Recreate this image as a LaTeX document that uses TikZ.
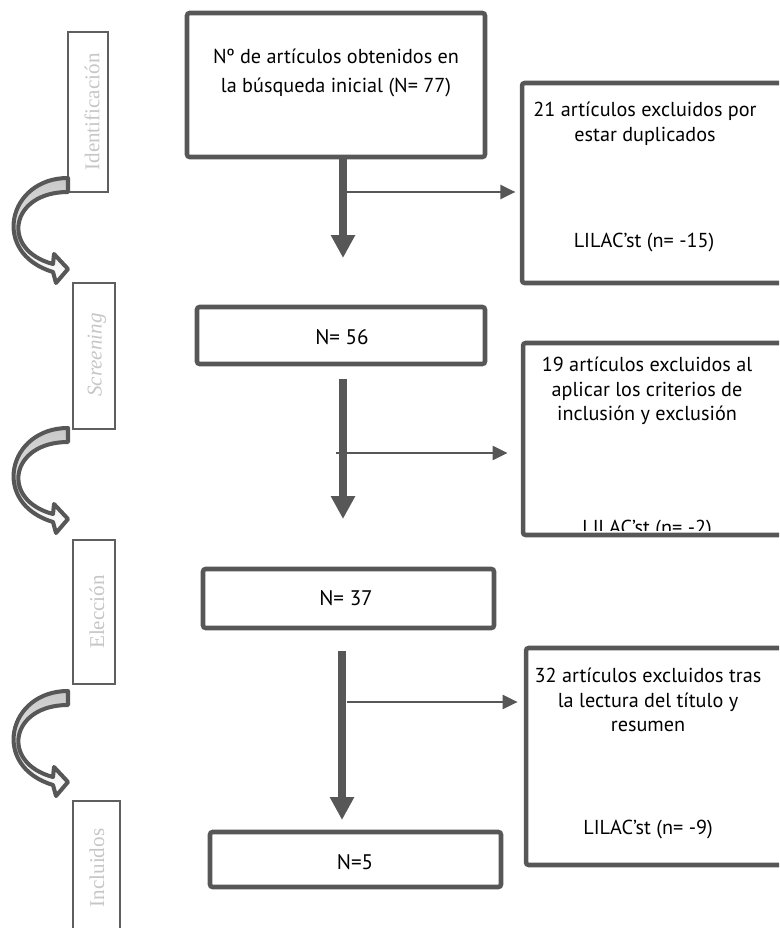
\documentclass[tikz,border=0pt]{standalone}
\usepackage{fontspec}
\setmainfont{PT Sans}
\newfontfamily\stagefont{Liberation Serif}
\usepackage{tikz}
\usetikzlibrary{arrows.meta,shadings}
\definecolor{figline}{RGB}{87,87,87}
\definecolor{figstage}{RGB}{95,95,95}
\definecolor{figlabel}{RGB}{198,198,198}
\definecolor{figband}{RGB}{200,200,200}
\tikzset{
  box/.style  ={draw=figline, line width=2.6pt, rounded corners=1.5pt, inner sep=0pt},
  stg/.style  ={draw=figstage, line width=1.2pt, inner sep=0pt},
  stl/.style  ={font=\stagefont\fontsize{12}{14}\selectfont, text=figlabel, rotate=90, inner sep=0pt},
  txt/.style  ={font=\fontsize{11.5}{14}\selectfont, align=center, inner sep=0pt},
  down/.style ={draw=figline, line width=4.5pt, -{Triangle[length=13pt,width=13pt]}},
  side/.style ={draw=figline, line width=1.1pt, -{Triangle[length=8.5pt,width=8pt]}},
  band/.style ={draw=figline, line width=2.3pt, line join=round, top color=figband, bottom color=white},
}

\begin{document}
\begin{tikzpicture}[x=0.02cm,y=-0.02cm]
  \useasboundingbox (0,0) rectangle (779,928);
  \clip (0,0) rectangle (779,928);
  % stages
  \node[stg,minimum width=0.8cm,minimum height=3.2cm] (stId) at (88,112) {};
  \node[stl] (lbId) at (92,112) {Identificación};
  \node[stg,minimum width=0.84cm,minimum height=2.92cm] (stSc) at (94,356) {};
  \node[stl] (lbSc) at (97,355) {\itshape Screening};
  \node[stg,minimum width=0.84cm,minimum height=2.88cm] (stEl) at (94,612) {};
  \node[stl] (lbEl) at (97,612) {Elección};
  \node[stg,minimum width=0.94cm,minimum height=2.8cm] (stIn) at (96.5,871) {};
  \node[stl] (lbIn) at (97,868) {Incluidos};
  \begin{scope}[shift={(68,178)}]
  \draw[band] (0,0) .. controls (-60,0) and (-78,75) .. (-15,94) -- (-12,105) -- (0,91) -- (-14,76) -- (-15,86) .. controls (-68,72) and (-58,14) .. (0,14) -- cycle;
  \end{scope}
  \begin{scope}[shift={(68,428)}]
  \draw[band] (0,0) .. controls (-60,0) and (-78,75) .. (-15,94) -- (-12,105) -- (0,91) -- (-14,76) -- (-15,86) .. controls (-68,72) and (-58,14) .. (0,14) -- cycle;
  \end{scope}
  \begin{scope}[shift={(68,691)}]
  \draw[band] (0,0) .. controls (-60,0) and (-78,75) .. (-15,94) -- (-12,105) -- (0,91) -- (-14,76) -- (-15,86) .. controls (-68,72) and (-58,14) .. (0,14) -- cycle;
  \end{scope}
  % main column
  \node[box,minimum width=5.96cm,minimum height=2.88cm] (n77) at (336,85) {};
  \node[txt,font=\fontsize{11.5}{17}\selectfont] (t77) at (336,73) {Nº de artículos obtenidos en\\la búsqueda inicial (N= 77)};
  \node[box,minimum width=5.76cm,minimum height=1.14cm] (n56) at (341,335.5) {};
  \node[txt,font=\fontsize{12}{14}\selectfont] (t56) at (342,337) {N= 56};
  \node[box,minimum width=5.82cm,minimum height=1.18cm] (n37) at (348.5,598.5) {};
  \node[txt,font=\fontsize{12}{14}\selectfont] (t37) at (346,598) {N= 37};
  \node[box,minimum width=5.82cm,minimum height=1.1cm] (n5) at (355.5,859.5) {};
  \node[txt,font=\fontsize{12}{14}\selectfont] (t5) at (355,862) {N=5};
  % exclusions
  \node[box,minimum width=5.36cm,minimum height=4cm] (ex1) at (656,183) {};
  \node[txt] (e1a) at (645,124) {21 artículos excluidos por\\estar duplicados};
  \node[txt] (e1b) at (644,243) {LILAC’st (n= -15)};
  \node[box,minimum width=5.34cm,minimum height=3.84cm] (ex2) at (656.5,439) {};
  \node[txt] (e2a) at (647,391) {19 artículos excluidos al\\aplicar los criterios de\\inclusión y exclusión};
  \begin{scope}
  \clip (520,340) rectangle (790,530);
  \node[txt,anchor=base] (e2b) at (647,534) {LILAC’st (n= -2)};
  \end{scope}
  \node[box,minimum width=5.28cm,minimum height=4.34cm] (ex3) at (658,756.5) {};
  \node[txt] (e3a) at (648,700) {32 artículos excluidos tras\\la lectura del título y\\resumen};
  \node[txt] (e3b) at (648,830) {LILAC’st (n= -9)};
  % arrows
  \coordinate (d1s) at (343,157);
  \coordinate (d1e) at (343,258);
  \coordinate (d2s) at (343,379);
  \coordinate (d2e) at (343,519);
  \coordinate (d3s) at (342,651);
  \coordinate (d3e) at (342,820);
  \coordinate (j1) at (343,192);
  \coordinate (j2) at (336,453);
  \coordinate (j3) at (347,702);
  \draw[side,shorten >=2.5pt] (j1) -- (j1 -| ex1.west);
  \draw[side,shorten >=7.5pt] (j2) -- (j2 -| ex2.west);
  \draw[side,shorten >=3.5pt] (j3) -- (j3 -| ex3.west);
  \draw[down] (d1s) -- (d1e);
  \draw[down] (d2s) -- (d2e);
  \draw[down] (d3s) -- (d3e);
\end{tikzpicture}
\end{document}
